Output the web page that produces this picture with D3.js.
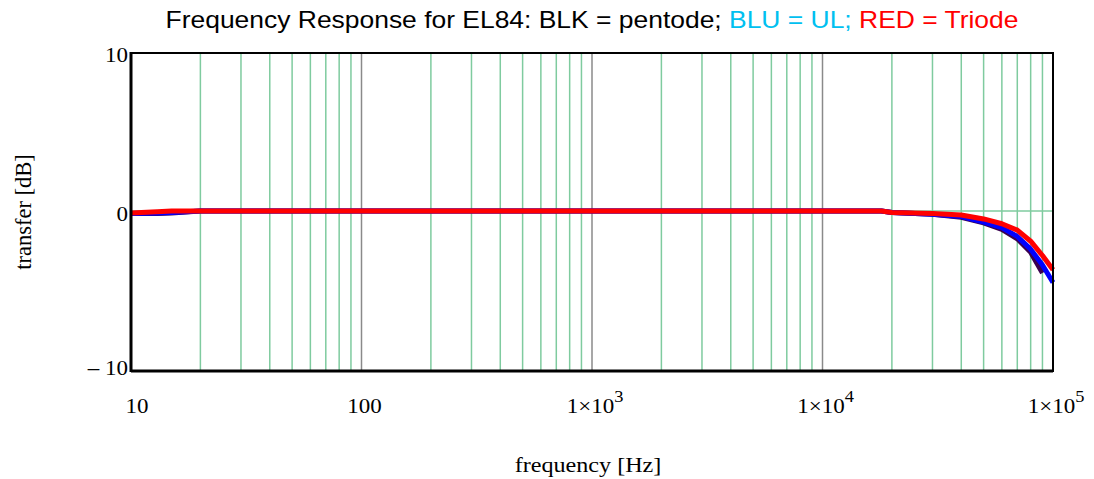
<!DOCTYPE html>
<html>
<head>
<meta charset="utf-8">
<script src="https://cdn.jsdelivr.net/npm/d3@7"></script>
<style>
  body { margin: 0; background: #fff; }
  svg { display: block; }
  .tick-label { font-family: "Liberation Serif", "Times New Roman", serif; font-size: 20px; fill: #000; }
</style>
</head>
<body>
<svg width="1094" height="479"></svg>
<script>
var svg = d3.select("svg"),
    plotLeft = 131, plotRight = 1053, plotTop = 53, plotBottom = 371,
    stretch = 1.15;

// data
var freqs   = [10, 13, 15, 20, 100, 1000, 10000, 18000, 20000, 30000, 40000, 50000, 60000, 70000, 80000, 90000, 100000];
var pentode = [-0.15, -0.15, -0.12, 0, 0, 0, 0, 0, -0.1, -0.2, -0.4, -0.75, -1.15, -1.75, -2.6, -3.9, null];
var ul      = [-0.15, -0.12, -0.1, 0, 0, 0, 0, 0, -0.1, -0.2, -0.35, -0.7, -1.05, -1.6, -2.4, -3.4, -4.5];
var triode  = [-0.12, -0.05, 0, 0, 0, 0, 0, 0, -0.1, -0.15, -0.25, -0.5, -0.8, -1.2, -1.9, -2.8, -3.7];
var xTicks = [10, 100, 1000, 10000, 100000];
var yTicks = [10, 0, -10];
// end of data

var x = d3.scaleLog().domain([10, 100000]).range([plotLeft, plotRight]);
var y = d3.scaleLinear().domain([-10, 10]).range([plotBottom, plotTop]);

// grid
var minor = [];
for (var d = 10; d < 100000; d *= 10) {
  for (var m = 2; m <= 9; m++) minor.push(d * m);
}
svg.append("g").selectAll("line")
  .data(minor)
  .enter().append("line")
    .attr("x1", function(f) { return x(f); })
    .attr("x2", function(f) { return x(f); })
    .attr("y1", plotTop).attr("y2", plotBottom)
    .attr("stroke", "#7fcb9f").attr("stroke-width", 1.5);

svg.append("g").selectAll("line")
  .data(xTicks.slice(1, -1))
  .enter().append("line")
    .attr("x1", function(f) { return x(f); })
    .attr("x2", function(f) { return x(f); })
    .attr("y1", plotTop).attr("y2", plotBottom)
    .attr("stroke", "#8a8a8a").attr("stroke-width", 1.5);

svg.append("line")
  .attr("x1", plotLeft).attr("x2", plotRight)
  .attr("y1", y(0) - 1).attr("y2", y(0) - 1)
  .attr("stroke", "#7fcb9f").attr("stroke-width", 1.5);

// curves
function drawCurve(vals, color) {
  var pts = freqs.map(function(f, i) { return [f, vals[i]]; })
                 .filter(function(p) { return p[1] !== null; });
  svg.append("path")
    .datum(pts)
    .attr("fill", "none")
    .attr("stroke", color)
    .attr("stroke-width", 5)
    .attr("stroke-linejoin", "round")
    .attr("d", d3.line().x(function(p) { return x(p[0]); }).y(function(p) { return y(p[1]) - 1; }));
}
drawCurve(pentode, "#3a0050");
drawCurve(ul, "#0000ff");
drawCurve(triode, "#ff0000");

// frame
svg.append("rect")
  .attr("x", plotLeft).attr("y", plotTop)
  .attr("width", plotRight - plotLeft).attr("height", plotBottom - plotTop)
  .attr("fill", "none").attr("stroke", "#000").attr("stroke-width", 2);
svg.append("line").attr("x1", plotLeft).attr("x2", plotLeft).attr("y1", plotTop - 1).attr("y2", plotBottom + 1)
  .attr("stroke", "#000").attr("stroke-width", 3);
svg.append("line").attr("x1", plotLeft).attr("x2", plotRight).attr("y1", plotBottom).attr("y2", plotBottom)
  .attr("stroke", "#000").attr("stroke-width", 3);

// y tick labels
svg.append("g").selectAll("text")
  .data(yTicks)
  .enter().append("text")
    .attr("class", "tick-label")
    .attr("transform", function(v) {
      return "translate(" + (plotLeft - 3) + "," + (y(v) + (v < 0 ? 4 : 9)) + ") scale(" + stretch + ",1)";
    })
    .attr("text-anchor", "end")
    .text(function(v) { return v < 0 ? "\u2013 " + Math.abs(v) : v; });

// x tick labels
var xl = svg.append("g").selectAll("text")
  .data(xTicks)
  .enter().append("text")
    .attr("class", "tick-label")
    .attr("transform", function(f, i) {
      return "translate(" + (i == 0 ? x(f) + 6 : x(f) + 3) + ",413) scale(" + stretch + ",1)";
    })
    .attr("text-anchor", "middle");
xl.each(function(f) {
  var t = d3.select(this), e = Math.round(Math.log10(f));
  if (e < 3) { t.text(f); return; }
  t.append("tspan").text("1\u00d710");
  t.append("tspan").attr("dy", -11).attr("font-size", 16).text(e);
});

// axis titles
svg.append("text")
  .attr("transform", "translate(588,472) scale(" + stretch + ",1)")
  .attr("text-anchor", "middle")
  .style("font-family", "'Liberation Serif', serif").style("font-size", "21px")
  .text("frequency [Hz]");

svg.append("text")
  .attr("transform", "translate(31,212) rotate(-90)")
  .attr("text-anchor", "middle")
  .style("font-family", "'Liberation Serif', serif").style("font-size", "22.5px")
  .text("transfer [dB]");

// title
var title = svg.append("text")
  .attr("transform", "translate(592,28) scale(" + stretch + ",1)")
  .attr("text-anchor", "middle")
  .style("font-family", "'Liberation Sans', Arial, sans-serif").style("font-size", "23px");
title.append("tspan").attr("fill", "#000").text("Frequency Response for EL84: BLK = pentode; ");
title.append("tspan").attr("fill", "#00c0f0").text("BLU = UL; ");
title.append("tspan").attr("fill", "#ff0000").text("RED = Triode");
</script>
</body>
</html>
